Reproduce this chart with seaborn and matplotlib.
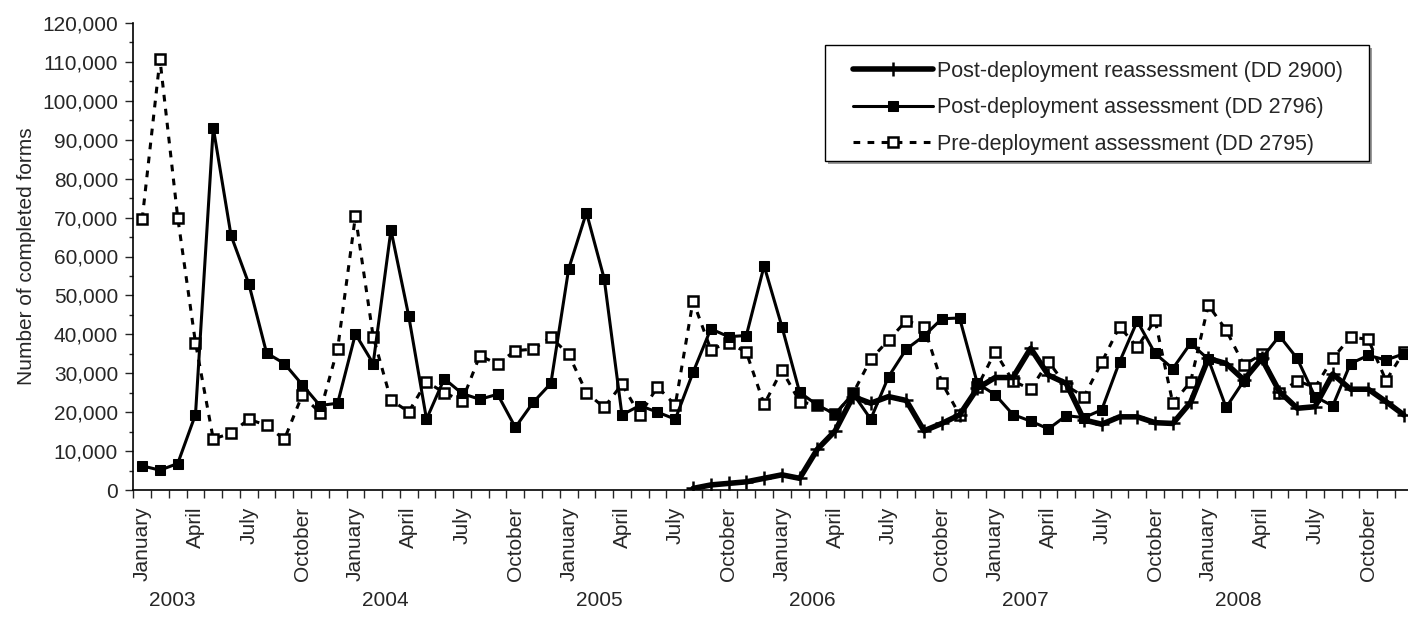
import numpy as np
import pandas as pd
import matplotlib
matplotlib.use("Agg")
import matplotlib.pyplot as plt
import matplotlib.ticker as mticker
from matplotlib.patches import Rectangle
import seaborn as sns

month_names = ["January", "February", "March", "April", "May", "June", "July",
               "August", "September", "October", "November", "December"]
years = [2003, 2004, 2005, 2006, 2007, 2008]

post_assessment = [
    6200, 5100, 6800, 19400, 93100, 65400, 53000, 35200, 32500, 27100, 21700, 22300,
    40100, 32500, 66800, 44700, 18200, 28600, 24800, 23300, 24600, 16100, 22500, 27400,
    56800, 71300, 54300, 19300, 21700, 20000, 18200, 30200, 41400, 39400, 39700, 57600,
    42000, 25100, 21800, 19500, 24800, 18200, 29100, 36200, 39600, 44000, 44200, 27400,
    24500, 19400, 17700, 15700, 19100, 18600, 20600, 32900, 43400, 35100, 31200, 37700,
    33600, 21200, 28100, 33800, 39600, 33800, 24000, 21600, 32500, 34600, 33400, 35000,
]
pre_assessment = [
    69600, 110700, 70000, 37800, 13100, 14600, 18200, 16600, 13000, 24300, 19900, 36300,
    70400, 39400, 23100, 20100, 27800, 25000, 22900, 34500, 32400, 35800, 36200, 39200,
    34900, 25000, 21200, 27200, 19300, 26500, 21800, 48600, 36100, 37800, 35400, 22000,
    30800, 22700, 21800, 19500, 24800, 33600, 38500, 43500, 42000, 27600, 19300, 26500,
    35500, 28000, 25900, 33000, 26800, 24000, 32800, 42000, 36700, 43700, 22300, 27800,
    47500, 41100, 32100, 34900, 24800, 28100, 26300, 33800, 39300, 38700, 28100, 35500,
]
# Post-deployment reassessment starts in August 2005
reassess_start = 31
post_reassessment = [
    400, 1300, 1700, 2100, 3000,
    3900, 3000, 10500, 15200, 24000, 22300, 24000, 23000, 15200, 17100, 19300, 26100,
    28900, 28900, 36400, 29500, 27400, 18000, 16900, 18800, 18800, 17300, 17100, 22500,
    33800, 32500, 28300, 33800, 25300, 21000, 21400, 29800, 25900, 25900, 22700, 19300,
]

labels = ["Post-deployment reassessment (DD 2900)",
          "Post-deployment assessment (DD 2796)",
          "Pre-deployment assessment (DD 2795)"]

n = len(post_assessment)
idx = np.arange(n)
df_a = pd.DataFrame({"m": idx, "v": post_assessment})
df_p = pd.DataFrame({"m": idx, "v": pre_assessment})
df_r = pd.DataFrame({"m": idx[reassess_start:], "v": post_reassessment})

sns.set_style("ticks")
plt.rcParams["font.family"] = ["Liberation Sans", "DejaVu Sans"]
FS = 15

fig = plt.figure(figsize=(14.08, 6.2), dpi=100)
W, H = 1408, 620
x0, x1 = 133.3, 1412.7
y_top, y_bot = 23, 490
ax = fig.add_axes([x0 / W, (H - y_bot) / H, (x1 - x0) / W, (y_bot - y_top) / H])

def px_x(p):
    return (p - x0) / (x1 - x0)

def px_y(p):
    return (y_bot - p) / (y_bot - y_top)

sns.lineplot(data=df_p, x="m", y="v", ax=ax, color="black", lw=2.2,
             linestyle=(0, (2.2, 2.4)), marker="s", markersize=6.5,
             markerfacecolor="white", markeredgecolor="black", markeredgewidth=1.8,
             label=labels[2], zorder=3)
sns.lineplot(data=df_a, x="m", y="v", ax=ax, color="black", lw=2.2,
             marker="s", markersize=7.5, markerfacecolor="black",
             markeredgecolor="black", label=labels[1], zorder=4)
sns.lineplot(data=df_r, x="m", y="v", ax=ax, color="black", lw=4,
             marker="+", markersize=10, markeredgewidth=1.8,
             markeredgecolor="black", markerfacecolor="black",
             label=labels[0], zorder=5)

ax.set_xlim(-0.5, n - 0.5)
ax.set_ylim(0, 120000)
ax.yaxis.set_major_locator(mticker.MultipleLocator(10000))
ax.yaxis.set_minor_locator(mticker.MultipleLocator(5000))
ax.yaxis.set_major_formatter(mticker.FuncFormatter(lambda v, p: f"{int(v):,}"))
ax.tick_params(axis="y", which="major", length=6, width=1, labelsize=FS, pad=5)
ax.tick_params(axis="y", which="minor", length=3, width=1)

label_pos = [i for i in idx if i % 3 == 0]
ax.set_xticks(label_pos)
ax.set_xticklabels([month_names[i % 12] for i in label_pos], rotation=90,
                   fontsize=FS)
ax.set_xticks(np.arange(-0.5, n, 1.0), minor=True)
ax.tick_params(axis="x", which="major", length=0, pad=12)
ax.tick_params(axis="x", which="minor", length=6, width=1)

for k, yr in enumerate(years):
    ax.text(12 * k + 1.7, px_y(600), str(yr), transform=ax.get_xaxis_transform(),
            ha="center", va="center", fontsize=FS)

ax.set_xlabel("")
ax.set_ylabel("Number of completed forms", fontsize=FS)
ax.yaxis.set_label_coords(px_x(36), 0.5)
for s in ["top", "right"]:
    ax.spines[s].set_visible(False)
for s in ["left", "bottom"]:
    ax.spines[s].set_color("black")
    ax.spines[s].set_linewidth(1.2)

# legend frame (with light shadow) drawn as patches, entries via ax.legend
bx0, bx1, by0, by1 = 825, 1369, 45, 161
shadow = Rectangle((px_x(bx0 + 3), px_y(by1 + 3)), px_x(bx1) - px_x(bx0),
                   px_y(by0) - px_y(by1), transform=ax.transAxes,
                   facecolor="#9a9a9a", edgecolor="none", zorder=8, clip_on=False)
frame = Rectangle((px_x(bx0), px_y(by1)), px_x(bx1) - px_x(bx0),
                  px_y(by0) - px_y(by1), transform=ax.transAxes,
                  facecolor="white", edgecolor="black", lw=1.0, zorder=9,
                  clip_on=False)
ax.add_patch(shadow)
ax.add_patch(frame)

h, l = ax.get_legend_handles_labels()
order = [l.index(t) for t in labels]
leg = ax.legend([h[i] for i in order], [l[i] for i in order],
                loc="center left", bbox_to_anchor=(px_x(853), px_y(108)),
                borderaxespad=0, borderpad=0, fontsize=15.5, frameon=False,
                handlelength=3.7, handletextpad=0.2, labelspacing=0.72)
leg.set_zorder(10)

fig.savefig("out.png", dpi=100)
